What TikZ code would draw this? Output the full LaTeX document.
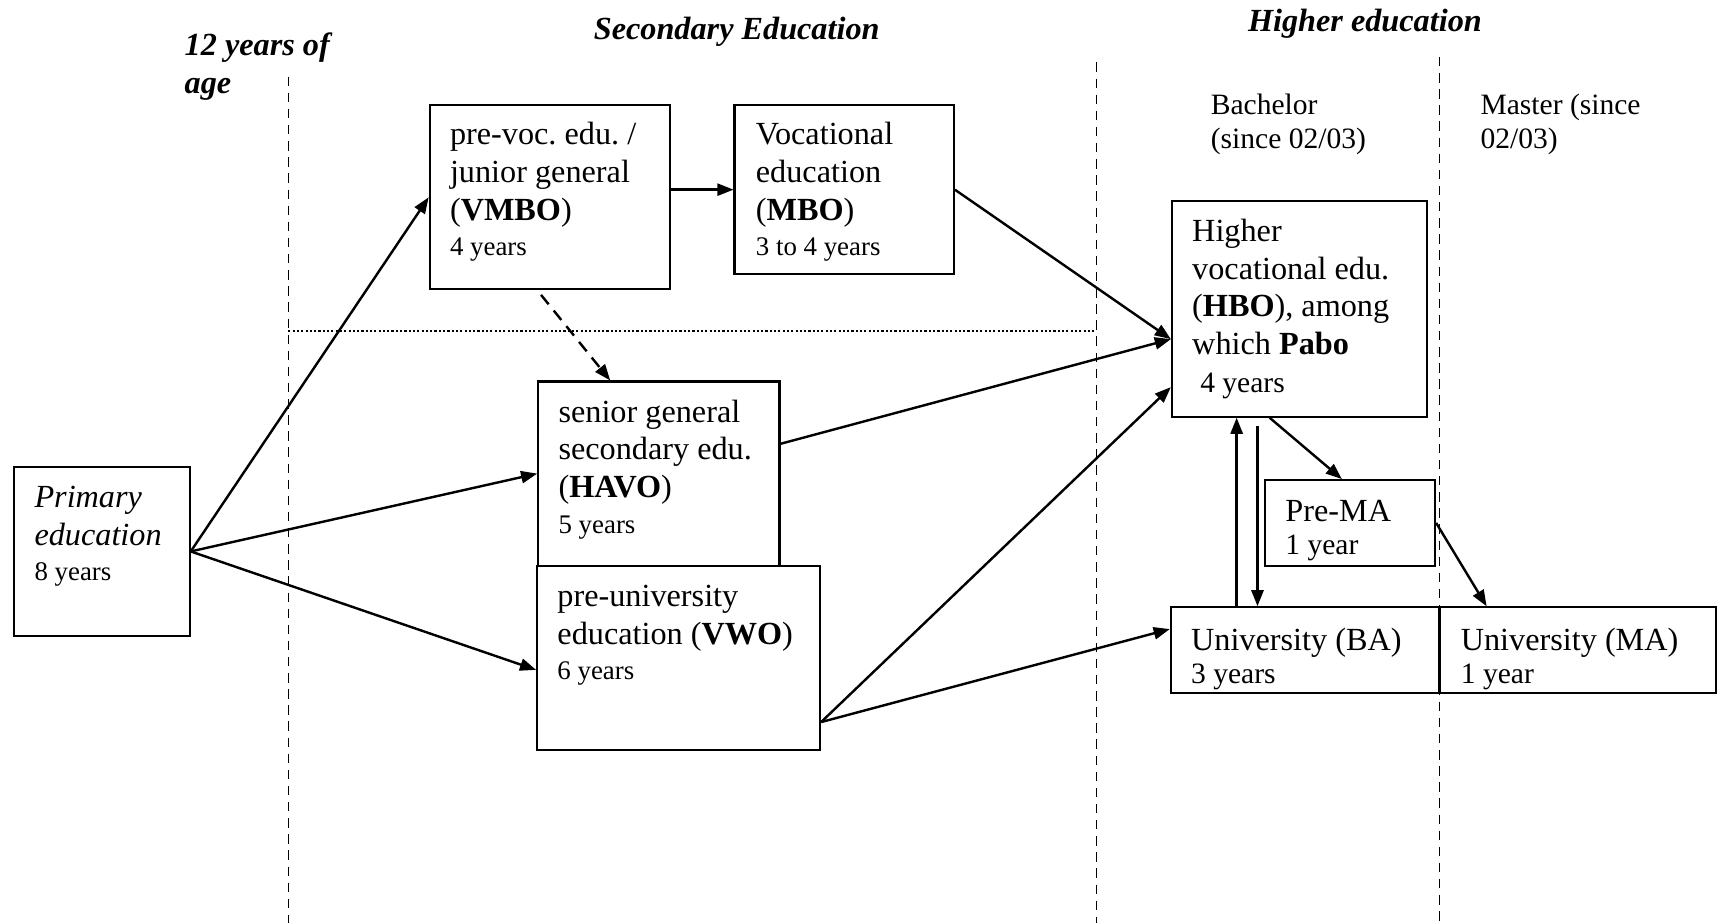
\documentclass[tikz,border=0pt]{standalone}
\usepackage{fontspec}
\setmainfont{Liberation Serif}
\usepackage{tikz}
\usetikzlibrary{arrows.meta}
\usetikzlibrary{fit,calc}

\newcommand{\smallyrs}[1]{{\fontsize{10}{12}\selectfont #1}}
\newcommand{\midyrs}[1]{{\fontsize{11}{13}\selectfont #1}}
\frenchspacing

\begin{document}
\begin{tikzpicture}[
    x=0.01435cm, y=-0.01435cm,
    box/.style={draw, line width=0.8pt, inner sep=0pt},
    txt/.style={anchor=base west, inner sep=0pt, align=flush left, text width=4cm, font=\fontsize{12}{14.1}\selectfont},
    head/.style={inner sep=0pt, font=\fontsize{12}{14.1}\selectfont\bfseries\itshape},
    arr/.style={line width=0.9pt, -{Triangle[length=6pt,width=4.5pt]}},
    divider/.style={line width=0.6pt, dash pattern=on 3.5pt off 2.5pt},
  ]
  \useasboundingbox (0,0) rectangle (1568,842);

  % Headings
  \node[head, anchor=base west, align=flush left, text width=3cm] (age) at (168,51) {12 years of\\ age};
  \node[head, anchor=base] (sec) at (672,36) {Secondary Education};
  \node[head, anchor=base] (high) at (1245,29) {Higher education};
  \node[txt, font=\fontsize{11}{13}\selectfont] (bach) at (1104,104) {Bachelor\\ (since 02/03)};
  \node[txt, font=\fontsize{11}{13}\selectfont] (mast) at (1350,104) {Master (since\\ 02/03)};

  % Dividers
  \draw[divider] (263,70) -- (263,842);
  \draw[divider] (1000,57) -- (1000,842);
  \draw[divider] (1313,52) -- (1313,842);
  \draw[line width=0.8pt, dash pattern=on 0.8pt off 0.8pt] (263,302) -- (1000,302);

  % Boxes
  \node[box, fit={(13,426) (173,580)}] (prim) {};
  \node[box, fit={(392,96) (611,264)}] (vmbo) {};
  \node[box, fit={(670,96) (870,250)}] (mbo) {};
  \node[box, fit={(491,348) (711,516)}] (havo) {};
  \node[box, fill=white, fit={(490,516) (748,684)}] (vwo) {};
  \node[box, fit={(1069,183) (1302,380)}] (hbo) {};
  \node[box, fit={(1154,438) (1309,516)}] (prema) {};
  \node[box, fit={(1068,554) (1313,632)}] (ba) {};
  \node[box, fit={(1313,554) (1565,632)}] (ma) {};

  % Box texts
  \node[txt] (primtxt) at (31,463) {\textit{Primary}\\ \textit{education}\\[-1pt] \smallyrs{8 years}};
  \node[txt] (vmbotxt) at (410,132) {pre-voc. edu. /\\ junior general\\ (\textbf{VMBO})\\[-1pt] \smallyrs{4 years}};
  \node[txt] (mbotxt) at (689,132) {Vocational\\ education\\ (\textbf{MBO})\\[-1pt] \smallyrs{3 to 4 years}};
  \node[txt] (havotxt) at (509,385) {senior general\\ secondary edu.\\ (\textbf{HAVO})\\[-1pt] \smallyrs{5 years}};
  \node[txt] (vwotxt) at (508,553) {pre-university\\ education (\textbf{VWO})\\[-1pt] \smallyrs{6 years}};
  \node[txt] (hbotxt) at (1087,220) {Higher\\ vocational edu.\\ (\textbf{HBO}), among\\ which \textbf{Pabo}\\ \hspace*{3pt}\midyrs{4 years}};
  \node[txt] (prematxt) at (1172,476) {Pre-MA\\[-1.8pt] \midyrs{1 year}};
  \node[txt] (batxt) at (1086,593) {University (BA)\\[-1.8pt] \midyrs{3 years}};
  \node[txt] (matxt) at (1332,593) {University (MA)\\[-1.8pt] \midyrs{1 year}};

  % Secondary routes
  \draw[arr] (prim.east) -- (vmbo.west);
  \draw[arr] (prim.east) -- (havo.west);
  \draw[arr] (prim.east) -- ($(vwo.north west)!0.565!(vwo.south west)$);
  \draw[arr] (vmbo.east |- mbo.west) -- (mbo.west);
  \draw[arr, dash pattern=on 4.5pt off 3pt] ($(vmbo.south)+(-8,4)$) -- ($(havo.north west)!0.3!(havo.north east)$);

  % Into higher education
  \coordinate (hboin) at ($(hbo.north west)!0.64!(hbo.south west)$);
  \draw[arr] (mbo.east) -- (hboin);
  \draw[arr] ($(havo.north east)!0.34!(havo.south east)$) -- (hboin);
  \draw[arr] ($(vwo.north east)!0.845!(vwo.south east)$) -- ($(hbo.north west)!0.86!(hbo.south west)$);
  \draw[arr] ($(vwo.north east)!0.845!(vwo.south east)$) -- ($(ba.north west)!0.26!(ba.south west)$);

  % Within higher education
  \draw[arr] ($(ba.north west)+(61,0)$) -- ($(hbo.south west)+(60,0)$);
  \draw[arr] ($(hbo.south west)+(79,8)$) -- ($(ba.north west)+(80,0)$);
  \draw[arr] ($(hbo.south west)+(90,0)$) -- ($(prema.north west)+(71,0)$);
  \draw[arr] (prema.east) -- ($(ma.north west)+(44,0)$);

\end{tikzpicture}
\end{document}
